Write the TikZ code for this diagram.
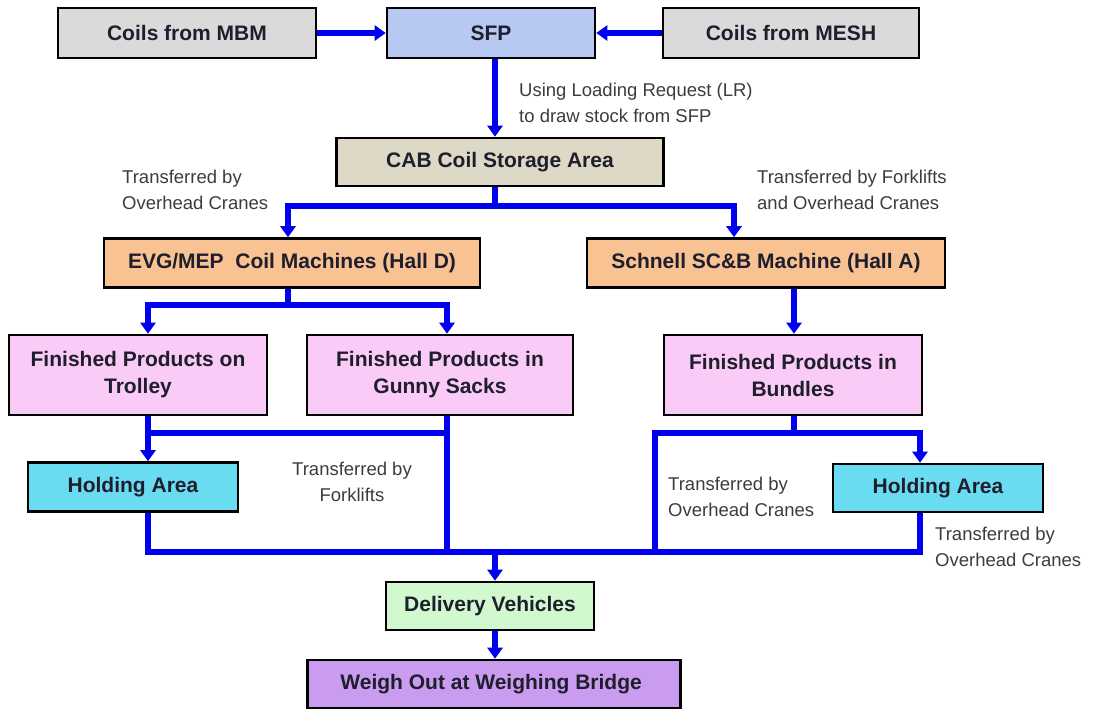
\documentclass[tikz,border=0pt]{standalone}
\usepackage{fontspec}
\setmainfont{Liberation Sans}
\usepackage{xcolor}
\usetikzlibrary{arrows.meta}

\definecolor{coilgray}{HTML}{DADADA}
\definecolor{sfpblue}{HTML}{B7C8F2}
\definecolor{cabtan}{HTML}{DDD9C6}
\definecolor{machorange}{HTML}{F9C292}
\definecolor{prodpink}{HTML}{F9CBF6}
\definecolor{holdcyan}{HTML}{6ADCF2}
\definecolor{delgreen}{HTML}{D2F8D0}
\definecolor{weighviolet}{HTML}{C99CF0}
\definecolor{flowblue}{HTML}{0000F0}
\definecolor{boxtext}{HTML}{1E1E2C}
\definecolor{notegray}{HTML}{3C3C3C}

\begin{document}
\begin{tikzpicture}[x=1pt,y=-1pt,
    box/.style={draw=black,line width=2.6pt,align=center,inner sep=2pt,text=boxtext,
        font=\fontsize{21}{27}\selectfont\bfseries},
    flow/.style={draw=flowblue,line width=6pt,-{Triangle[width=15pt,length=11pt]}},
    pipe/.style={draw=flowblue,line width=6pt},
    note/.style={inner sep=0pt,align=left,text=notegray,font=\fontsize{18.5}{26}\selectfont}]
    \useasboundingbox (0,0) rectangle (1095,710);
    \foreach \n/\x/\w/\h/\c/\l in{
    mbm/{(187,33)}/258pt/50pt/coilgray/{Coils from MBM},
    sfp/{(491,33)}/208pt/50pt/sfpblue/{SFP},
    mesh/{(791,33)}/256pt/50pt/coilgray/{Coils from MESH},
    cab/{(500,162)}/327pt/48pt/cabtan/{CAB Coil Storage Area},
    evg/{(292,263)}/376pt/49pt/machorange/{EVG/MEP\ \ Coil Machines (Hall D)},
    schnell/{(766,263)}/358pt/49pt/machorange/{Schnell SC\&B Machine (Hall A)},
    trolley/{(138,375)}/258pt/80pt/prodpink/{Finished Products on\\Trolley},
    gunny/{(440,375)}/266pt/80pt/prodpink/{Finished Products in\\Gunny Sacks},
    bundles/{(793,375)}/258pt/80pt/prodpink/{Finished Products in\\Bundles},
    holdl/{(133,487)}/210pt/49pt/holdcyan/{Holding Area},
    holdr/{(938,488)}/210pt/48pt/holdcyan/{Holding Area},
    delivery/{(490,606)}/208pt/48pt/delgreen/{Delivery Vehicles},
    weigh/{(494,684)}/373pt/48pt/weighviolet/{Weigh Out at Weighing Bridge}
    }
    {
            \node[box,fill=\c,minimum width=\w,minimum height=\h] (\n) at \x {\l};
        }
    % junction points of the blue lines
    \coordinate (cabj) at (495,206);
    \coordinate (cabl) at (288,206);
    \coordinate (cabr) at (734,206);
    \coordinate (evgj) at (288,305);
    \coordinate (trl) at (148,433);
    \coordinate (gnl) at (447,433);
    \coordinate (bnj) at (794,433);
    \coordinate (bnl) at (655,433);
    \coordinate (hrl) at (920,433);
    \coordinate (base) at (495,552);
    \draw[flow] (mbm) -- (sfp);
    \draw[flow] (mesh) -- (sfp);
    \draw[flow] (sfp.south -| cabj) -- (cab.north -| cabj);
    \draw[flow] (cab.south -| cabj) -- (cabj) -| (evg.north -| cabl);
    \draw[flow] (cabj) -| (schnell.north -| cabr);
    \draw[flow] (evg.south -| evgj) -- (evgj) -| (trolley.north -| trl);
    \draw[flow] (evgj) -| (gunny.north -| gnl);
    \draw[flow] (schnell.south -| bnj) -- (bundles.north -| bnj);
    \draw[flow] (trolley.south -| trl) -- (holdl.north -| trl);
    \draw[pipe] (trl) -- (gnl);
    \draw[pipe] (gunny.south -| gnl) -- (gnl |- base);
    \draw[pipe] (holdl.south -| trl) -- (trl |- base) -- (hrl |- base) -- (holdr.south -| hrl);
    \draw[pipe] (bundles.south -| bnj) -- (bnj);
    \draw[flow] (bnl |- base) -- (bnl) -| (holdr.north -| hrl);
    \draw[flow] (base) -- (delivery.north -| base);
    \draw[flow] (delivery.south -| base) -- (weigh.north -| base);
    % notes beside the lines
    \node[note,anchor=north west] (lrnote) at (519,83) {Using Loading Request (LR)\\to draw stock from SFP};
    \node[note,anchor=north west] (cranel) at (122,170) {Transferred by\\Overhead Cranes};
    \node[note,anchor=north west] (craner) at (757,170) {Transferred by Forklifts\\and Overhead Cranes};
    \node[note,anchor=north,align=center] (forkl) at (352,462) {Transferred by\\Forklifts};
    \node[note,anchor=north west] (craneb) at (668,477) {Transferred by\\Overhead Cranes};
    \node[note,anchor=north west] (craneh) at (935,527) {Transferred by\\Overhead Cranes};
\end{tikzpicture}
\end{document}
